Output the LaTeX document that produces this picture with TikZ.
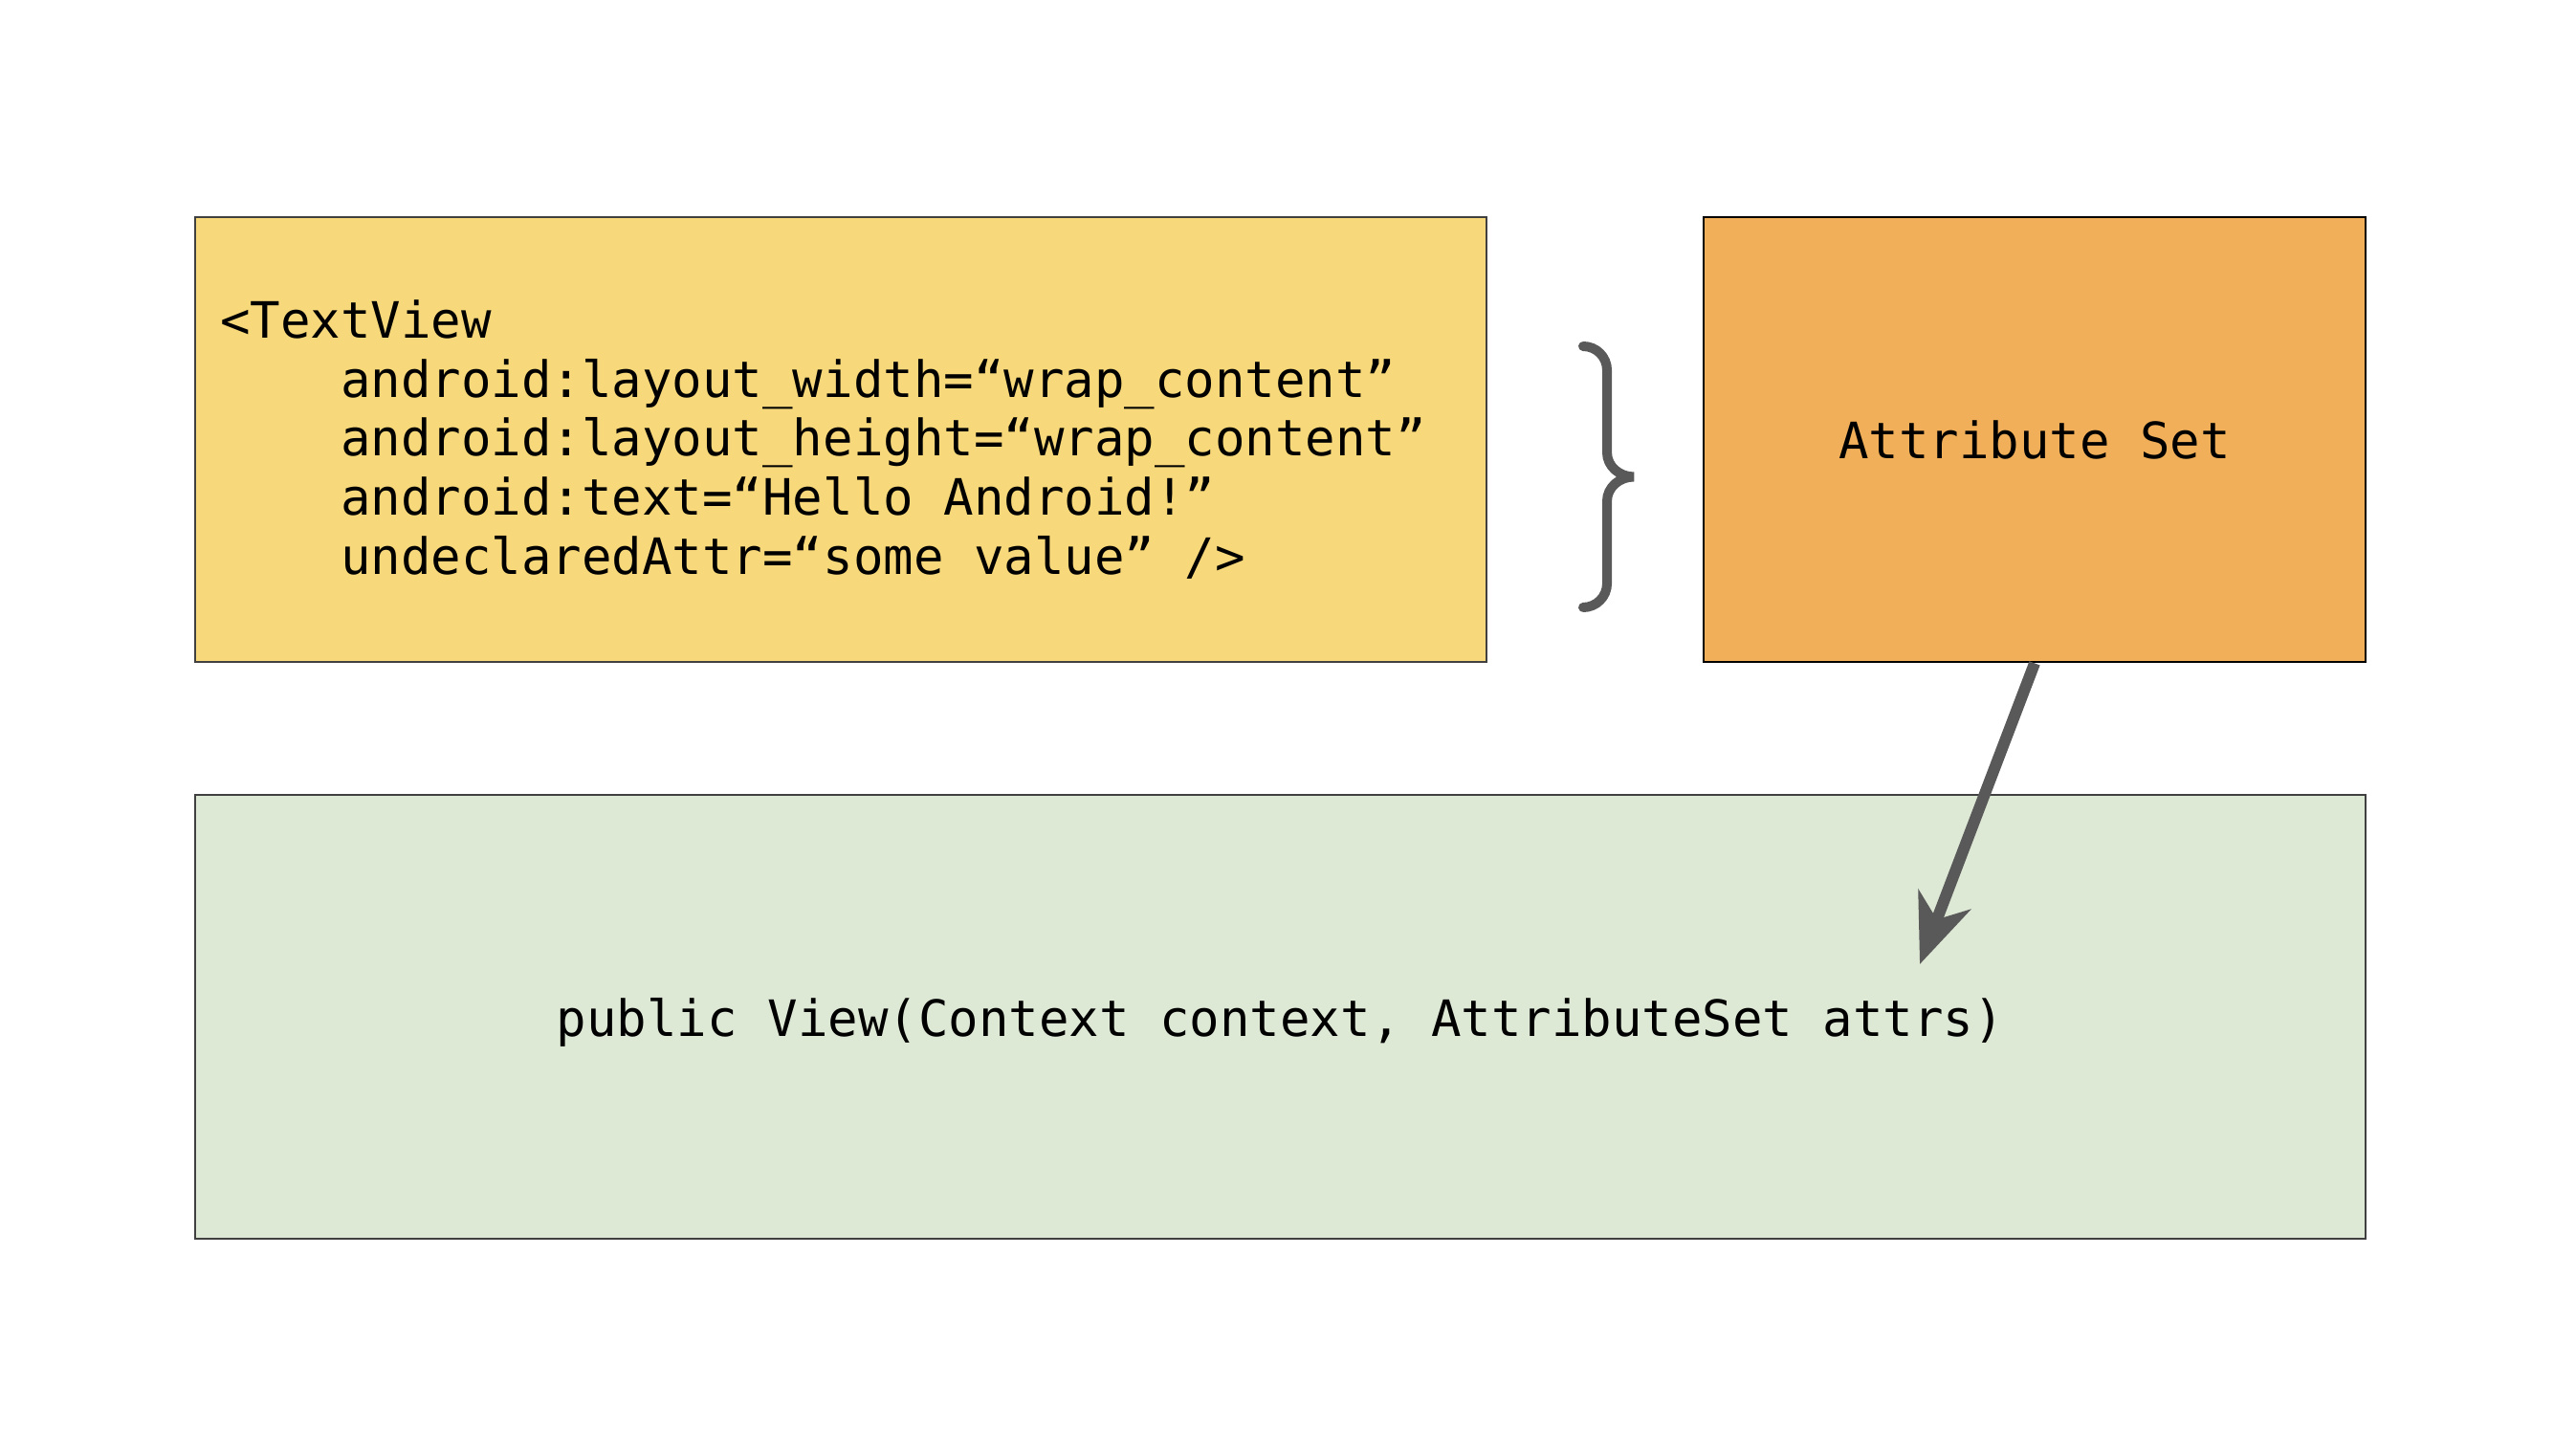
\documentclass[tikz,border=0pt]{standalone}
\usepackage{fontspec}
\setmonofont{DejaVu Sans Mono}
\usepackage{xcolor}
\usetikzlibrary{arrows.meta}

\definecolor{codeyellow}{HTML}{F7D87A}
\definecolor{attrorange}{HTML}{F0AF58}
\definecolor{ctorgreen}{HTML}{DDE8D5}
\definecolor{linegray}{HTML}{595959}

\begin{document}
\begin{tikzpicture}[
  every node/.style = {font=\ttfamily\fontsize{14.9}{17.6}\selectfont},
  box/.style = {draw=black!75, line width=0.8pt, rectangle, inner sep=0pt},
  codetext/.style = {execute at begin node={%
      \spaceskip=0.602em\relax\xspaceskip=0.602em\relax}},
  bracepath/.style = {draw=linegray, line width=2.85pt, line cap=round},
  link/.style = {draw=linegray, line width=3.4pt,
                 -{Stealth[length=0.72cm, width=0.58cm, inset=0.22cm]}}
]
  \useasboundingbox (0,0) rectangle (26.93,15.18);

  % xml snippet
  \node[box, codetext, fill=codeyellow, minimum height=4.65cm,
        text width=12.98cm, inner xsep=0.26cm, align=left] (code) at (8.79,10.585)
    {<TextView\\
     \phantom{xxxx}android:layout\_width=“wrap\_content”\\
     \phantom{xxxx}android:layout\_height=“wrap\_content”\\
     \phantom{xxxx}android:text=“Hello Android!”\\
     \phantom{xxxx}undeclaredAttr=“some value” />};

  % the set of attributes
  \node[box, draw=black, fill=attrorange, minimum width=6.92cm,
        minimum height=4.65cm] (attr) at (21.27,10.585) {Attribute Set};

  % constructor
  \node[box, fill=ctorgreen, minimum width=22.69cm, minimum height=4.64cm,
        text depth=0pt] (ctor) at (13.385,4.55)
    {public View(Context context, AttributeSet attrs)};

  % brace between snippet and set
  \draw[bracepath] (16.55,11.56) to[out=0,in=90] (16.80,11.31) -- (16.80,10.45)
    to[out=-90,in=180] (17.08,10.195) to[out=180,in=90] (16.80,9.94)
    -- (16.80,9.08) to[out=-90,in=0] (16.55,8.83);

  \coordinate (attrs) at (20.07,5.10);
  \draw[link] (attr.south) -- (attrs);
\end{tikzpicture}
\end{document}
